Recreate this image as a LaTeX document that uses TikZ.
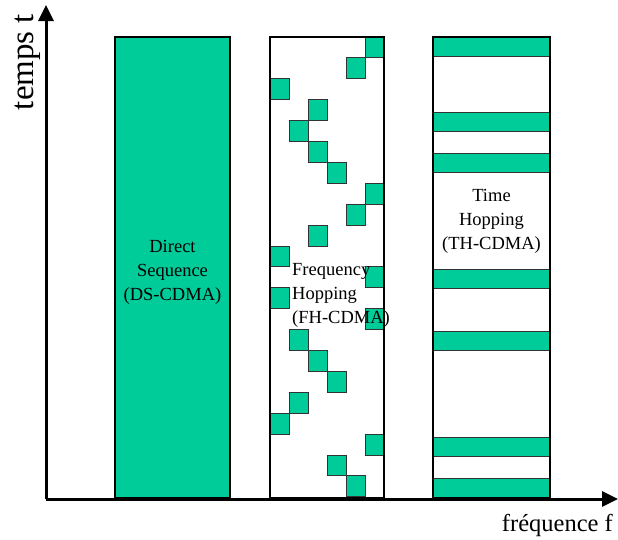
\documentclass[tikz,border=0pt]{standalone}
\usepackage{fontspec}
\setmainfont{Liberation Serif}
\usetikzlibrary{arrows.meta}
\definecolor{cdmagreen}{RGB}{0,204,153}
\begin{document}
\begin{tikzpicture}[x=1pt,y=-1pt,
  column/.style={draw=black, line width=2pt},
  chip/.style={draw=black!80, line width=1pt, fill=cdmagreen},
  boxtext/.style={font=\fontsize{18.5}{24}\selectfont, inner sep=0pt},
  axis/.style={line width=3pt, -{Triangle[length=16pt,width=15pt]}}]
\useasboundingbox[fill=white] (0,0) rectangle (618,539);

% Direct sequence: the whole band, all the time
\draw[column, fill=cdmagreen] (115,37) rectangle (230,498);

% Frequency hopping: one sub-band per time slot
\fill[white] (270,37) rectangle (384,498);
\foreach \r/\c in {0/5,1/4,2/0,3/2,4/1,5/2,6/3,7/5,8/4,9/2,10/0,
                   11/5,12/0,13/5,14/1,15/2,16/3,17/1,18/0,19/5,20/3,21/4}
  \draw[chip] (270+19*\c, 37+20.9*\r) rectangle ++(19,20.9);
\draw[column] (270,37) rectangle (384,498);

% Time hopping: the whole band during short bursts
\fill[white] (433,37) rectangle (550,498);
\foreach \t in {37,112,153,269,331,437,478}
  \draw[chip] (433,\t) rectangle ++(117,19.5);
\draw[column] (433,37) rectangle (550,498);

% axes
\coordinate (O) at (46,499);
\coordinate (ttip) at (46,5);
\coordinate (ftip) at (618,499);
\draw[axis] (O) -- (ttip);
\draw[axis] (O) -- (ftip);

% labels (base anchor = baseline of the last line)
\node[boxtext, align=center, anchor=base] (ds) at (172.5,300) {Direct\\Sequence\\(DS-CDMA)};
\node[boxtext, align=left, anchor=base west] (fh) at (292,323) {Frequency\\Hopping\\(FH-CDMA)};
\node[boxtext, align=center, anchor=base] (th) at (491.5,249) {Time\\Hopping\\(TH-CDMA)};
\node[font=\fontsize{33}{33}\selectfont, inner sep=0pt, rotate=90, anchor=base] (tlabel) at (33,62) {temps t};
\node[font=\fontsize{24.5}{24.5}\selectfont, inner sep=0pt, anchor=base east] (flabel) at (613,531) {fréquence f};
\end{tikzpicture}
\end{document}
